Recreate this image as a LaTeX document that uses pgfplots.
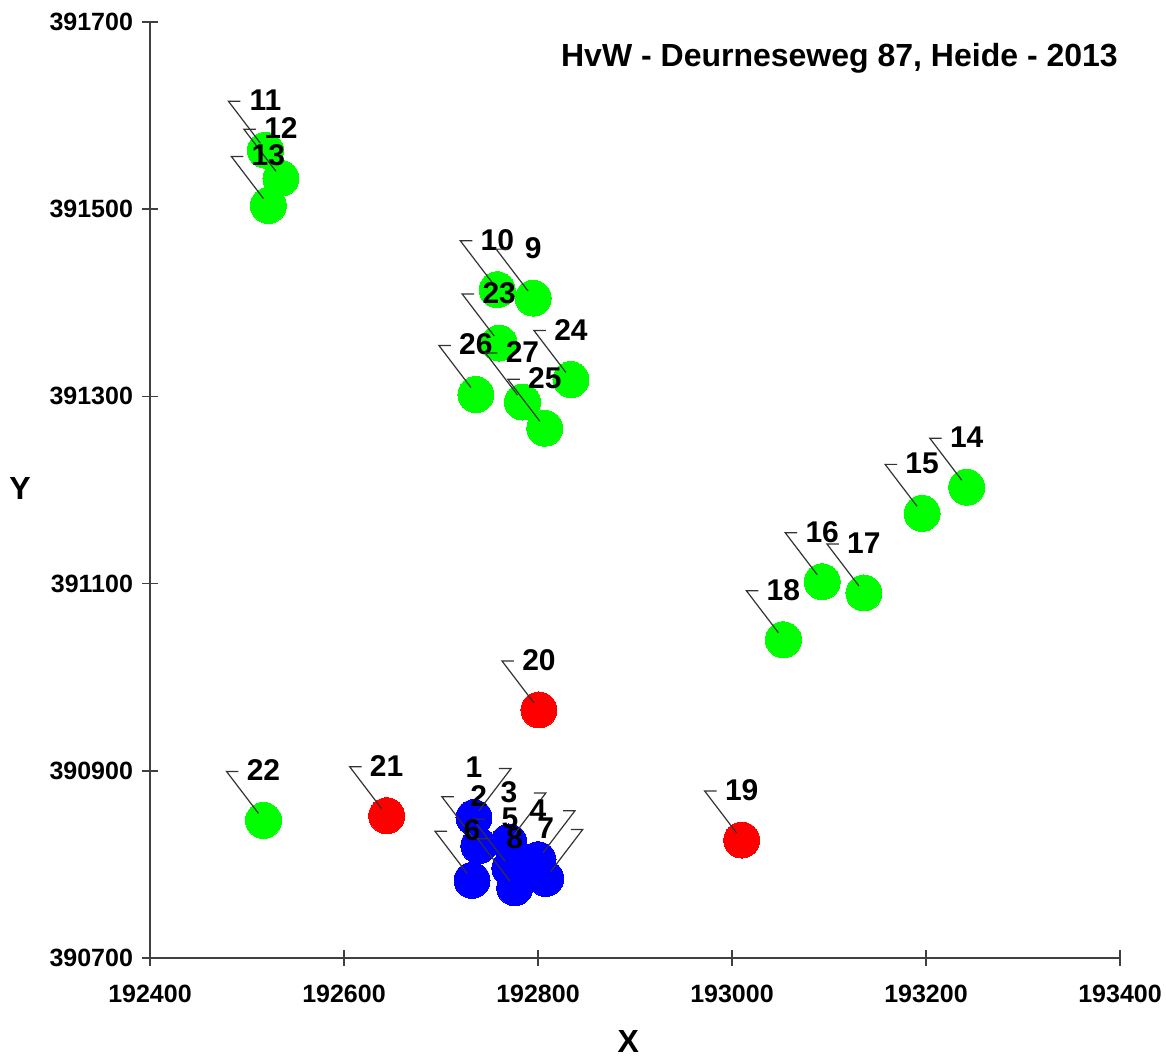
\documentclass[border=0pt]{standalone}
\usepackage{fontspec}
\setmainfont{Liberation Sans}
\usepackage{pgfplots}
\pgfplotsset{compat=1.18}
\usepackage{pgfplotstable}

\pgfdeclareplotmark{leaderL}{%
  \pgfpathmoveto{\pgfpoint{-12.5pt}{24.5pt}}%
  \pgfpathlineto{\pgfpoint{-18.5pt}{24.5pt}}%
  \pgfpathlineto{\pgfpoint{-2.5pt}{3.5pt}}%
  \pgfusepathqstroke}
\pgfdeclareplotmark{leaderR}{%
  \pgfpathmoveto{\pgfpoint{12.5pt}{24.5pt}}%
  \pgfpathlineto{\pgfpoint{18.5pt}{24.5pt}}%
  \pgfpathlineto{\pgfpoint{2.5pt}{3.5pt}}%
  \pgfusepathqstroke}

\pgfplotstableread{
x y label
192519 391563 11
192535 391533 12
192522 391504 13
192758 391414 10
192795 391405 9
192760 391357 23
192834 391318 24
192736 391302 26
192784 391294 27
192807 391266 25
193242 391203 14
193196 391175 15
193093 391102 16
193136 391090 17
193053 391040 18
192517 390847 22
}\greenpts

\pgfplotstableread{
x y label
193010 390826 19
192801 390965 20
192644 390852 21
}\redpts

\pgfplotstableread{
x y label
192734 390850 1
192739 390820 2
192770 390824 3
192800 390805 4
192771 390796 5
192732 390783 6
192808 390785 7
192776 390775 8
}\bluepts

\pgfplotstableread{
x y label
192519 391563 11
192535 391533 12
192522 391504 13
192758 391414 10
192795 391405 9
192760 391357 23
192834 391318 24
192736 391302 26
192784 391294 27
192807 391266 25
193242 391203 14
193196 391175 15
193093 391102 16
193136 391090 17
193053 391040 18
192517 390847 22
193010 390826 19
192801 390965 20
192644 390852 21
192739 390820 2
192771 390796 5
192732 390783 6
192776 390775 8
}\leftlabels

\pgfplotstableread{
x y label
192734 390850 1
192770 390824 3
192800 390805 4
192808 390785 7
}\rightlabels

\begin{document}
\begin{tikzpicture}
\useasboundingbox (-75pt,-50.5pt) rectangle (508pt,479pt);
\begin{axis}[
  at={(0,0)}, anchor=south west,
  scale only axis, width=485pt, height=468pt,
  xmin=192400, xmax=193400, ymin=390700, ymax=391700,
  axis x line*=bottom, axis y line*=left,
  axis line style={-, line width=0.8pt, black!75},
  xtick={192400,192600,192800,193000,193200,193400},
  xticklabels={192400,192600,192800,193000,193200,193400},
  ytick={390700,390900,391100,391300,391500,391700},
  yticklabels={390700,390900,391100,391300,391500,391700},
  scaled ticks=false,
  tick align=center, major tick length=8pt,
  tick style={line width=0.8pt, black!75},
  tick label style={font=\bfseries\fontsize{12.5}{14}\selectfont},
  xticklabel style={yshift=-6pt},
  yticklabel style={xshift=-1pt},
  clip=false,
]
\addplot[only marks, color=green, mark=*, mark size=9pt, mark options={draw=green, fill=green, line width=0pt}] table[x=x,y=y] {\greenpts};
\addplot[only marks, color=red, mark=*, mark size=9pt, mark options={draw=red, fill=red, line width=0pt}] table[x=x,y=y] {\redpts};
\addplot[only marks, color=blue, mark=*, mark size=9pt, mark options={draw=blue, fill=blue, line width=0pt}] table[x=x,y=y] {\bluepts};

\addplot[only marks, mark=leaderL, color=black!80, mark options={line width=0.6pt},
  nodes near coords, point meta=explicit symbolic,
  every node near coord/.append style={anchor=center, yshift=25pt, xshift=0pt, font=\bfseries\fontsize{15}{17}\selectfont, text=black, inner sep=0pt}]
  table[x=x,y=y,meta=label] {\leftlabels};
\addplot[only marks, mark=leaderR, color=black!80, mark options={line width=0.6pt},
  nodes near coords, point meta=explicit symbolic,
  every node near coord/.append style={anchor=center, yshift=25pt, xshift=0pt, font=\bfseries\fontsize{15}{17}\selectfont, text=black, inner sep=0pt}]
  table[x=x,y=y,meta=label] {\rightlabels};

\node[anchor=east, font=\bfseries\fontsize{16}{18}\selectfont] at (rel axis cs:1.005,0.9615) {HvW - Deurneseweg 87, Heide - 2013};
\node[font=\bfseries\fontsize{16}{18}\selectfont] at (rel axis cs:0.493,-0.0897) {X};
\node[font=\bfseries\fontsize{16}{18}\selectfont] at (rel axis cs:-0.134,0.502) {Y};
\end{axis}
\end{tikzpicture}
\end{document}
